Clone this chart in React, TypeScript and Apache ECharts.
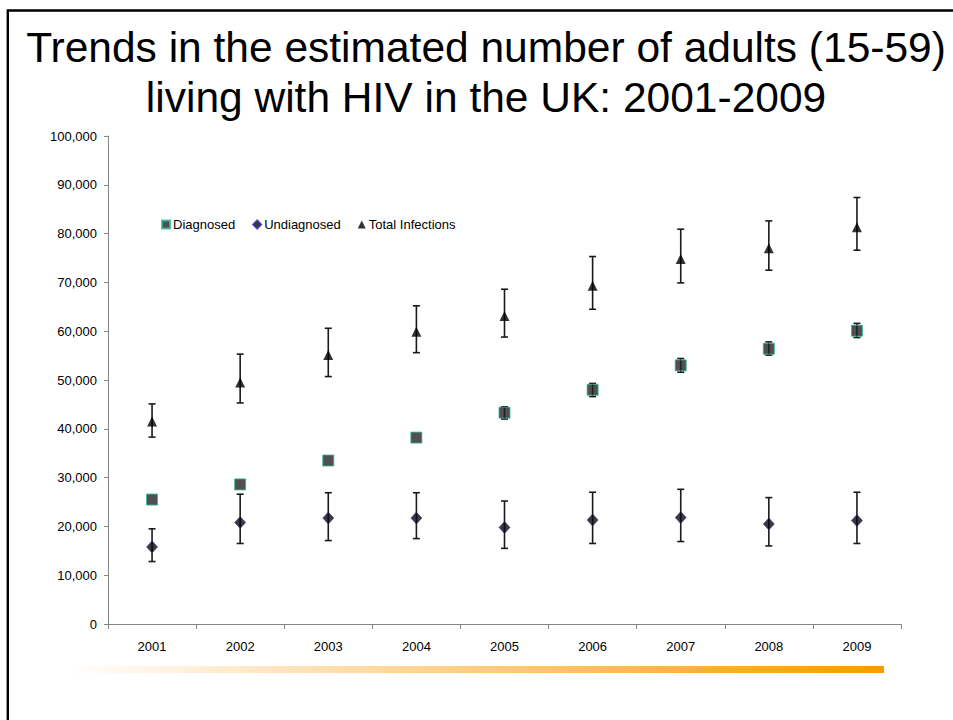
import React, { useEffect, useRef } from "react";
import * as echarts from "echarts";

// Years on the category axis
const years = ["2001", "2002", "2003", "2004", "2005", "2006", "2007", "2008", "2009"];

// Diagnosed adults (point estimates and ranges where reported)
const diagnosed = [25500, 28600, 33500, 38200, 43300, 48000, 53000, 56400, 60100];
const diagnosedLow = [null, null, null, null, 42000, 46600, 51600, 55100, 58700];
const diagnosedHigh = [null, null, null, null, 44500, 49300, 54400, 57800, 61600];

// Undiagnosed adults
const undiagnosed = [15800, 20800, 21700, 21700, 19800, 21300, 21800, 20500, 21200];
const undiagnosedLow = [12800, 16500, 17100, 17500, 15500, 16500, 16900, 16000, 16500];
const undiagnosedHigh = [19500, 26600, 26900, 26900, 25200, 27000, 27600, 25900, 27000];

// Total infections
const total = [41500, 49500, 55100, 59900, 63100, 69300, 74800, 77000, 81300];
const totalLow = [38300, 45300, 50700, 55600, 58800, 64500, 69900, 72500, 76600];
const totalHigh = [45100, 55300, 60600, 65200, 68600, 75300, 80900, 82600, 87400];

const yTicks = { min: 0, max: 100000, interval: 10000 };

const titleLines = [
  "Trends in the estimated number of adults (15-59)",
  "living with HIV in the UK: 2001-2009",
];

const FONT = "'Liberation Sans', Arial, sans-serif";

function rangeData(low: (number | null)[], high: (number | null)[]) {
  const out: number[][] = [];
  low.forEach((lo, i) => {
    const hi = high[i];
    if (lo != null && hi != null) out.push([i, lo, hi]);
  });
  return out;
}

function errorBarSeries(name: string, data: number[][]) {
  return {
    type: "custom",
    name,
    z: 1,
    silent: true,
    encode: { x: 0, y: [1, 2] },
    data,
    renderItem: (_params: any, api: any) => {
      const idx = api.value(0);
      const lo = api.coord([idx, api.value(1)]);
      const hi = api.coord([idx, api.value(2)]);
      const hw = 3.5;
      const style = { stroke: "#1a1a1a", lineWidth: 1.6 };
      return {
        type: "group",
        children: [
          { type: "line", shape: { x1: lo[0], y1: lo[1], x2: hi[0], y2: hi[1] }, style },
          { type: "line", shape: { x1: lo[0] - hw, y1: lo[1], x2: lo[0] + hw, y2: lo[1] }, style },
          { type: "line", shape: { x1: hi[0] - hw, y1: hi[1], x2: hi[0] + hw, y2: hi[1] }, style },
        ],
      };
    },
  };
}

export default function App() {
  const ref = useRef<HTMLDivElement>(null);

  useEffect(() => {
    if (!ref.current) return;
    const chart = echarts.init(ref.current, null, { renderer: "svg" });
    const axisGrey = "#868686";

    chart.setOption({
      animation: false,
      backgroundColor: "#ffffff",
      textStyle: { fontFamily: FONT },
      grid: { left: 108, right: 52, top: 136, bottom: 96, containLabel: false },
      legend: {
        data: ["Diagnosed", "Undiagnosed", "Total Infections"],
        left: 156,
        top: 213,
        itemWidth: 8,
        itemHeight: 8,
        itemGap: 17,
        textStyle: { fontFamily: FONT, fontSize: 13, color: "#000", padding: [0, 0, 0, -2] },
      },
      xAxis: {
        type: "category",
        data: years,
        boundaryGap: true,
        axisLine: { lineStyle: { color: axisGrey, width: 1 } },
        axisTick: { show: true, length: 5, lineStyle: { color: axisGrey } },
        axisLabel: { color: "#000", fontSize: 13, fontFamily: FONT, margin: 16 },
        splitLine: { show: false },
      },
      yAxis: {
        type: "value",
        min: yTicks.min,
        max: yTicks.max,
        interval: yTicks.interval,
        axisLine: { show: true, lineStyle: { color: axisGrey, width: 1 } },
        axisTick: { show: true, length: 4, lineStyle: { color: axisGrey } },
        axisLabel: {
          color: "#000",
          fontSize: 13,
          fontFamily: FONT,
          margin: 11,
          formatter: (v: number) => v.toLocaleString("en-US"),
        },
        splitLine: { show: false },
      },
      graphic: [
        {
          type: "polyline",
          shape: { points: [[7.8, 720], [7.8, 10.5], [953, 10.5]] },
          style: { stroke: "#000", lineWidth: 2.4, fill: "none" },
          z: 10,
        },
        ...titleLines.map((t, i) => ({
          type: "text",
          x: 486,
          y: 47 + i * 50,
          style: {
            text: t,
            font: `42.5px ${FONT}`,
            fill: "#000",
            textAlign: "center",
            textVerticalAlign: "middle",
          },
        })),
        {
          type: "rect",
          shape: { x: 67, y: 666, width: 817, height: 7 },
          style: {
            fill: new echarts.graphic.LinearGradient(0, 0, 1, 0, [
              { offset: 0, color: "rgba(255,153,0,0)" },
              { offset: 1, color: "#ff9900" },
            ]),
          },
        },
      ],
      series: [
        errorBarSeries("diagnosedRange", rangeData(diagnosedLow, diagnosedHigh)),
        errorBarSeries("undiagnosedRange", rangeData(undiagnosedLow, undiagnosedHigh)),
        errorBarSeries("totalRange", rangeData(totalLow, totalHigh)),
        {
          type: "scatter",
          name: "Diagnosed",
          z: 3,
          symbol: "rect",
          symbolSize: 11,
          itemStyle: { color: "#242424", borderColor: "#2fb89c", borderWidth: 1 },
          data: diagnosed,
        },
        {
          type: "scatter",
          name: "Undiagnosed",
          z: 3,
          symbol: "diamond",
          symbolSize: [11, 12],
          itemStyle: { color: "#0a0a0a", borderColor: "#2a2aa8", borderWidth: 0.7 },
          data: undiagnosed,
        },
        {
          type: "scatter",
          name: "Total Infections",
          z: 3,
          symbol: "triangle",
          symbolSize: [10, 10],
          itemStyle: { color: "#000000" },
          data: total,
        },
      ],
    });

    return () => chart.dispose();
  }, []);

  return (
    <div
      ref={ref}
      style={{ position: "absolute", left: 0, top: 0, width: 953, height: 720 }}
    />
  );
}
